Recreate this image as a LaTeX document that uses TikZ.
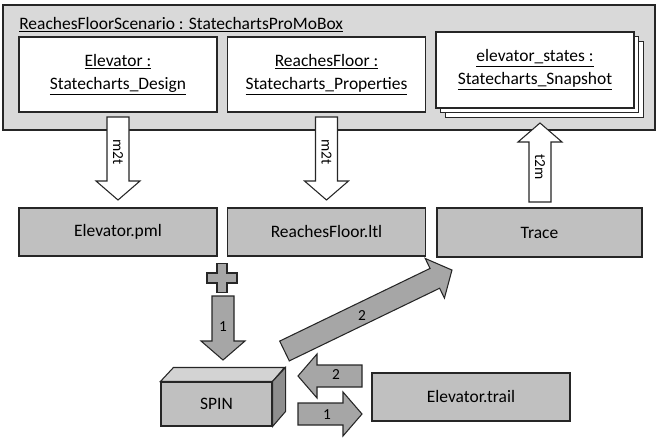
\documentclass[tikz,border=0pt]{standalone}
\usepackage{fontspec}
\setmainfont{Carlito}
\usepackage{xcolor}
\usetikzlibrary{shadows}
\definecolor{panelgray}{HTML}{D9D9D9}
\definecolor{filegray}{HTML}{C0C0C0}
\definecolor{arrowgray}{HTML}{A6A6A6}
\definecolor{topgray}{HTML}{D3D3D3}
\definecolor{sidegray}{HTML}{8E8E8E}
\newcommand{\objname}[1]{\underline{#1}}

\begin{document}
\begin{tikzpicture}[x=0.75pt,y=-0.75pt,
    every node/.style={font=\fontsize{13.1}{17.25}\selectfont}]
    \tikzset{
    obj box/.style={draw=black!85,fill=white,line width=0.8pt,minimum width=148.5pt,minimum height=56.25pt,inner sep=0,align=center},
    file box/.style={draw=black!85,fill=filegray,line width=0.8pt,minimum width=148.5pt,minimum height=36pt,inner sep=0},
    edge/.style={draw=black!85,line width=0.8pt,line join=miter},
    arrow label/.style={font=\fontsize{11.5}{13}\selectfont,inner sep=0},
    pics/blockarrow/.style={code={
        \path[pic actions] (0,-11) -- (#1-19,-11) -- (#1-19,-22) -- (#1,0)
            -- (#1-19,22) -- (#1-19,11) -- (0,11) -- cycle;
    }}
    }
    \useasboundingbox (0,0) rectangle (665,446);

    % the scenario box and its three objects
    \node[edge,fill=panelgray,minimum width=489pt,minimum height=93.75pt,inner sep=0] (scenario) at (329,67.5) {};
    \node[anchor=west,inner sep=0] (title) at (19,25) {\objname{ReachesFloorScenario : StatechartsProMoBox}};
    \node[obj box] (design) at (118,74.5) {\objname{Elevator :}\\\objname{Statecharts\_Design}};
    \node[obj box] (props) at (326.5,74.5) {\objname{ReachesFloor :}\\\objname{Statecharts\_Properties}};
    \node[obj box,minimum height=57pt,
        double copy shadow={shadow xshift=3.4pt,shadow yshift=-3.6pt,fill=white,draw=black!85,line width=0.8pt}]
        (snapshot) at (535,70) {\objname{elevator\_states :}\\\objname{Statecharts\_Snapshot}};

    % generated files
    \node[file box] (pml) at (118,232) {Elevator.pml};
    \node[file box] (ltl) at (326.5,232) {ReachesFloor.ltl};
    \node[file box,minimum width=153.75pt,minimum height=36.75pt] (trace) at (539.5,232.5) {Trace};
    \node[file box] (trail) at (471,397) {Elevator.trail};

    % transformations
    \pic[edge,fill=white,rotate=-90] at (118,117) {blockarrow=83};
    \pic[edge,fill=white,rotate=-90] at (326.5,117) {blockarrow=83};
    \pic[edge,fill=white,rotate=90] at (540,202) {blockarrow=79};
    \node[arrow label,rotate=-90] (m2tA) at (118,152) {m2t};
    \node[arrow label,rotate=-90] (m2tB) at (326.5,152) {m2t};
    \node[arrow label,rotate=-90] (t2mA) at (540,167) {t2m};

    % model checker
    \node[file box,minimum width=83.25pt,minimum height=33pt] (spin) at (216.5,404) {SPIN};
    \draw[edge,fill=topgray] (spin.north west) -- ++(13,-14) -- ++(111,0) -- (spin.north east) -- cycle;
    \draw[edge,fill=sidegray] (spin.north east) -- ++(13,-14) -- ++(0,44) -- (spin.south east) -- cycle;

    \begin{scope}[shift={(222,278)}]
        \draw[edge,fill=arrowgray] (-5,-14.5) -- (5,-14.5) -- (5,-5) -- (15,-5) -- (15,5) -- (5,5)
            -- (5,14.5) -- (-5,14.5) -- (-5,5) -- (-15,5) -- (-15,-5) -- (-5,-5) -- cycle;
    \end{scope}

    \pic[edge,fill=arrowgray,rotate=-90] at (223,296) {blockarrow=64};
    \pic[edge,fill=arrowgray,rotate=25.8] at (284.5,351) {blockarrow=186};
    \pic[edge,fill=arrowgray,rotate=180] at (362,376) {blockarrow=64};
    \pic[edge,fill=arrowgray] at (298,414) {blockarrow=64};
    \node[arrow label] (oneA) at (223,327) {1};
    \node[arrow label] (twoA) at (362,316) {2};
    \node[arrow label] (twoB) at (336,375) {2};
    \node[arrow label] (oneB) at (327,415) {1};
\end{tikzpicture}
\end{document}
